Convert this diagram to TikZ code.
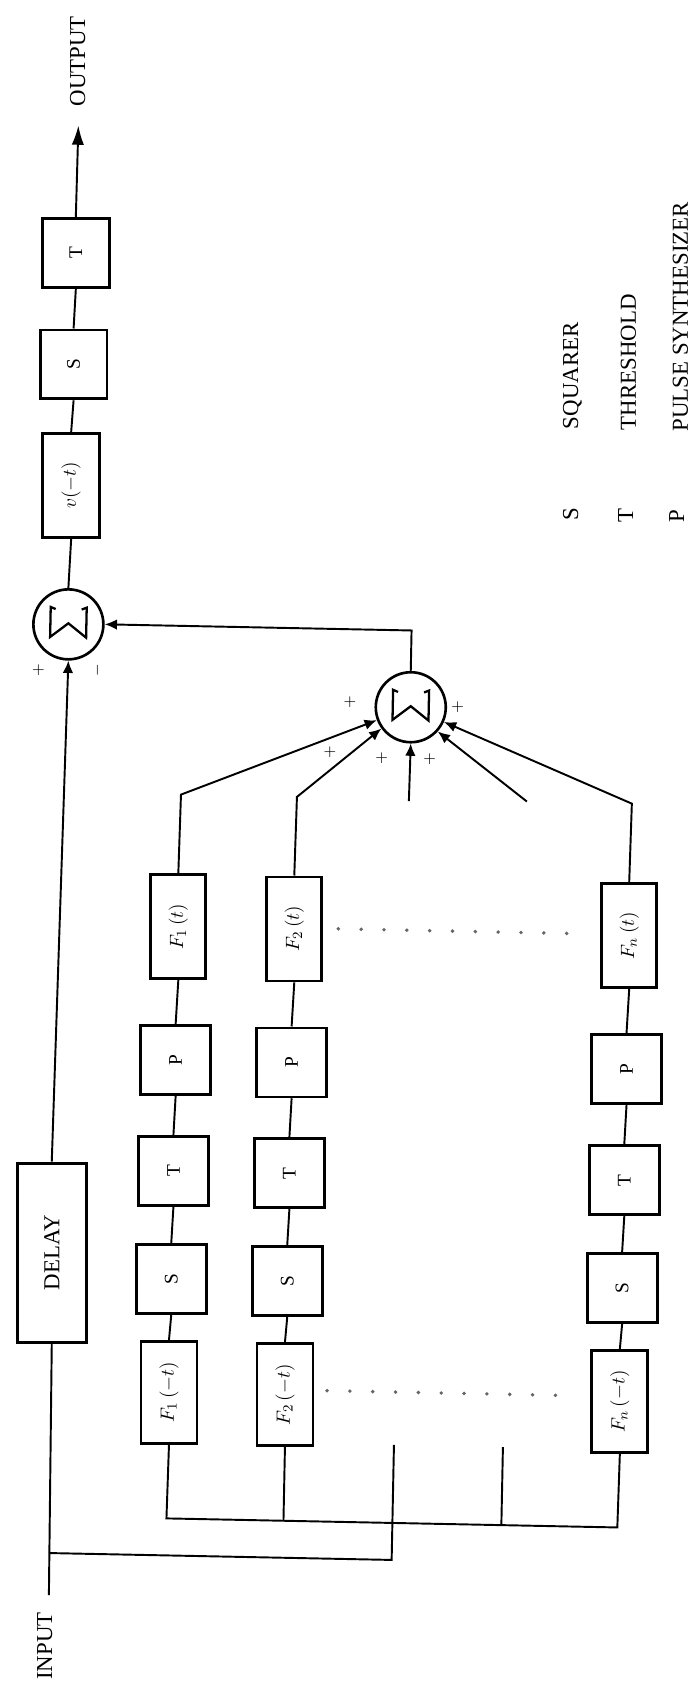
\documentclass[tikz,border=0pt]{standalone}
\usepackage{fontspec}
\setmainfont{Liberation Serif}
\usepackage{graphicx}
\usetikzlibrary{arrows.meta}
\newcommand\bigtxt{\fontsize{13}{15}\selectfont}
\newcommand\boxtxt{\fontsize{11}{13}\selectfont}
\begin{document}
\begin{tikzpicture}[x=0.02cm,y=-0.02cm,
  blk/.style={draw,line width=1.6pt,inner sep=0pt,fill=white,font=\boxtxt},
  sqbox/.style={blk,minimum width=1.40cm,minimum height=1.38cm},
  fbox/.style={blk,minimum width=1.10cm,minimum height=2.08cm},
  mainbox/.style={blk,minimum width=1.34cm,minimum height=1.38cm},
  sumc/.style={draw,circle,line width=1.5pt,minimum size=1.40cm,inner sep=0pt},
  conn/.style={line width=1.1pt},
  arr/.style={conn,-{Latex[length=7pt,width=6pt]}},
  bigarr/.style={conn,-{Latex[length=11pt,width=7pt]}},
  glyph/.style={line width=1.3pt,line join=miter},
  sgn/.style={rotate=90,inner sep=0pt,font=\fontsize{9}{10}\selectfont},
  lbl/.style={rotate=90,inner sep=0pt,font=\bigtxt},
  dotline/.style={line width=2.2pt,line cap=round,dash pattern=on 0pt off 13pt,black!60}]
\useasboundingbox (0,0) rectangle (697,1689);
\begin{scope}[rotate around={-1.15:(348,845)}]
% main path
\node[lbl] (out) at (62,67) {OUTPUT};
\coordinate (outtip) at (64,131);
\node[mainbox] (Tm) at (64,258.5) {\rotatebox{90}{T}};
\node[mainbox] (Sm) at (64,370) {\rotatebox{90}{S}};
\node[blk,minimum width=1.14cm,minimum height=2.08cm] (Vm) at (64,491) {\rotatebox{90}{$v(-t)$}};
\node[sumc] (S1) at (64,630) {};
\draw[glyph] (S1.center) ++(-13,-15) -- ++(-5,-2) -- ++(0,30) -- ++(18,-14) -- ++(18,14) -- ++(0,-30) -- ++(-5,2);
\node[sgn] (S1p) at (35,676) {$+$};
\node[sgn] (S1m) at (94,675) {$-$};
\node[blk,minimum width=1.38cm,minimum height=3.58cm,font=\bigtxt] (D) at (60,1258.5) {\rotatebox{90}{DELAY}};
\coordinate (inj) at (64,1559);
\coordinate (inend) at (64,1601);
\node[lbl] (in) at (61,1652) {INPUT};
% columns
\foreach \c/\x/\s in {1/180/1,2/296/2,n/631/n}{
  \node[fbox] (F\c t) at (\x,930) {\rotatebox{90}{$F_{\s}\,(t)$}};
  \node[sqbox] (P\c) at (\x,1063.5) {\rotatebox{90}{P}};
  \node[sqbox] (T\c) at (\x,1174.5) {\rotatebox{90}{T}};
  \node[sqbox] (Q\c) at (\x,1282.5) {\rotatebox{90}{S}};
  \node[fbox,minimum width=1.12cm,minimum height=2.04cm] (F\c i) at (\x,1396) {\rotatebox{90}{$F_{\s}\,(-t)$}};
  \draw[conn] (F\c i.north) -- (Q\c.south);
  \draw[conn] (Q\c.north) -- (T\c.south);
  \draw[conn] (T\c.north) -- (P\c.south);
  \draw[conn] (P\c.north) -- (F\c t.south);
}
% second summer
\node[sumc] (S2) at (408,706) {};
\draw[glyph] (S2.center) ++(-13,-15) -- ++(-5,-2) -- ++(0,30) -- ++(18,-14) -- ++(18,14) -- ++(0,-30) -- ++(-5,2);
\node[sgn] at (347,702) {$+$};
\node[sgn] at (328,753) {$+$};
\node[sgn] at (380,758) {$+$};
\node[sgn] at (428,758) {$+$};
\node[sgn] at (455,705) {$+$};
\coordinate (k1) at (180,798);
\coordinate (k2) at (296,798);
\coordinate (kn) at (631,798);
\coordinate (m0) at (408,800);
\coordinate (f0) at (526,798);
\draw[arr] (F1t.north) -- (k1) -- (S2.201.5);
\draw[arr] (F2t.north) -- (k2) -- (S2.216);
\draw[arr] (m0) -- (S2.south);
\draw[arr] (f0) -- (S2.318);
\draw[arr] (Fnt.north) -- (kn) -- (S2.336.5);
% main connections
\draw[bigarr] (Tm.north) -- (outtip);
\draw[conn] (Sm.north) -- (Tm.south);
\draw[conn] (Vm.north) -- (Sm.south);
\draw[conn] (S1.north) -- (Vm.south);
\draw[arr] (D.north) -- (S1.south);
\draw[arr] (S2.north) |- (S1.east);
\draw[conn] (inend) -- (D.south);
% input distribution
\coordinate (stA) at (406,1444);
\coordinate (stB) at (515,1444);
\coordinate (b1) at (180,1522);
\coordinate (bn) at (631,1522);
\draw[conn] (inj) -| (stA);
\draw[conn] (F1i.south) -- (b1) -- (bn) -- (Fni.south);
\draw[conn] (F2i.south) -- (F2i.south |- b1);
\draw[conn] (stB) -- (stB |- b1);
% dotted continuation
\draw[dotline] (340,929) -- (580,929);
\draw[dotline] (338,1391) -- (569,1391);
% legend
\node[lbl] (ls) at (564,510) {S};
\node[lbl] (lt) at (619,510) {T};
\node[lbl] (lp) at (670,510) {P};
\node[lbl,anchor=west] (ws) at (564,425) {SQUARER};
\node[lbl,anchor=west] (wt) at (620,425) {THRESHOLD};
\node[lbl,anchor=west] (wp) at (672,425) {PULSE SYNTHESIZER};
\end{scope}
\end{tikzpicture}
\end{document}
